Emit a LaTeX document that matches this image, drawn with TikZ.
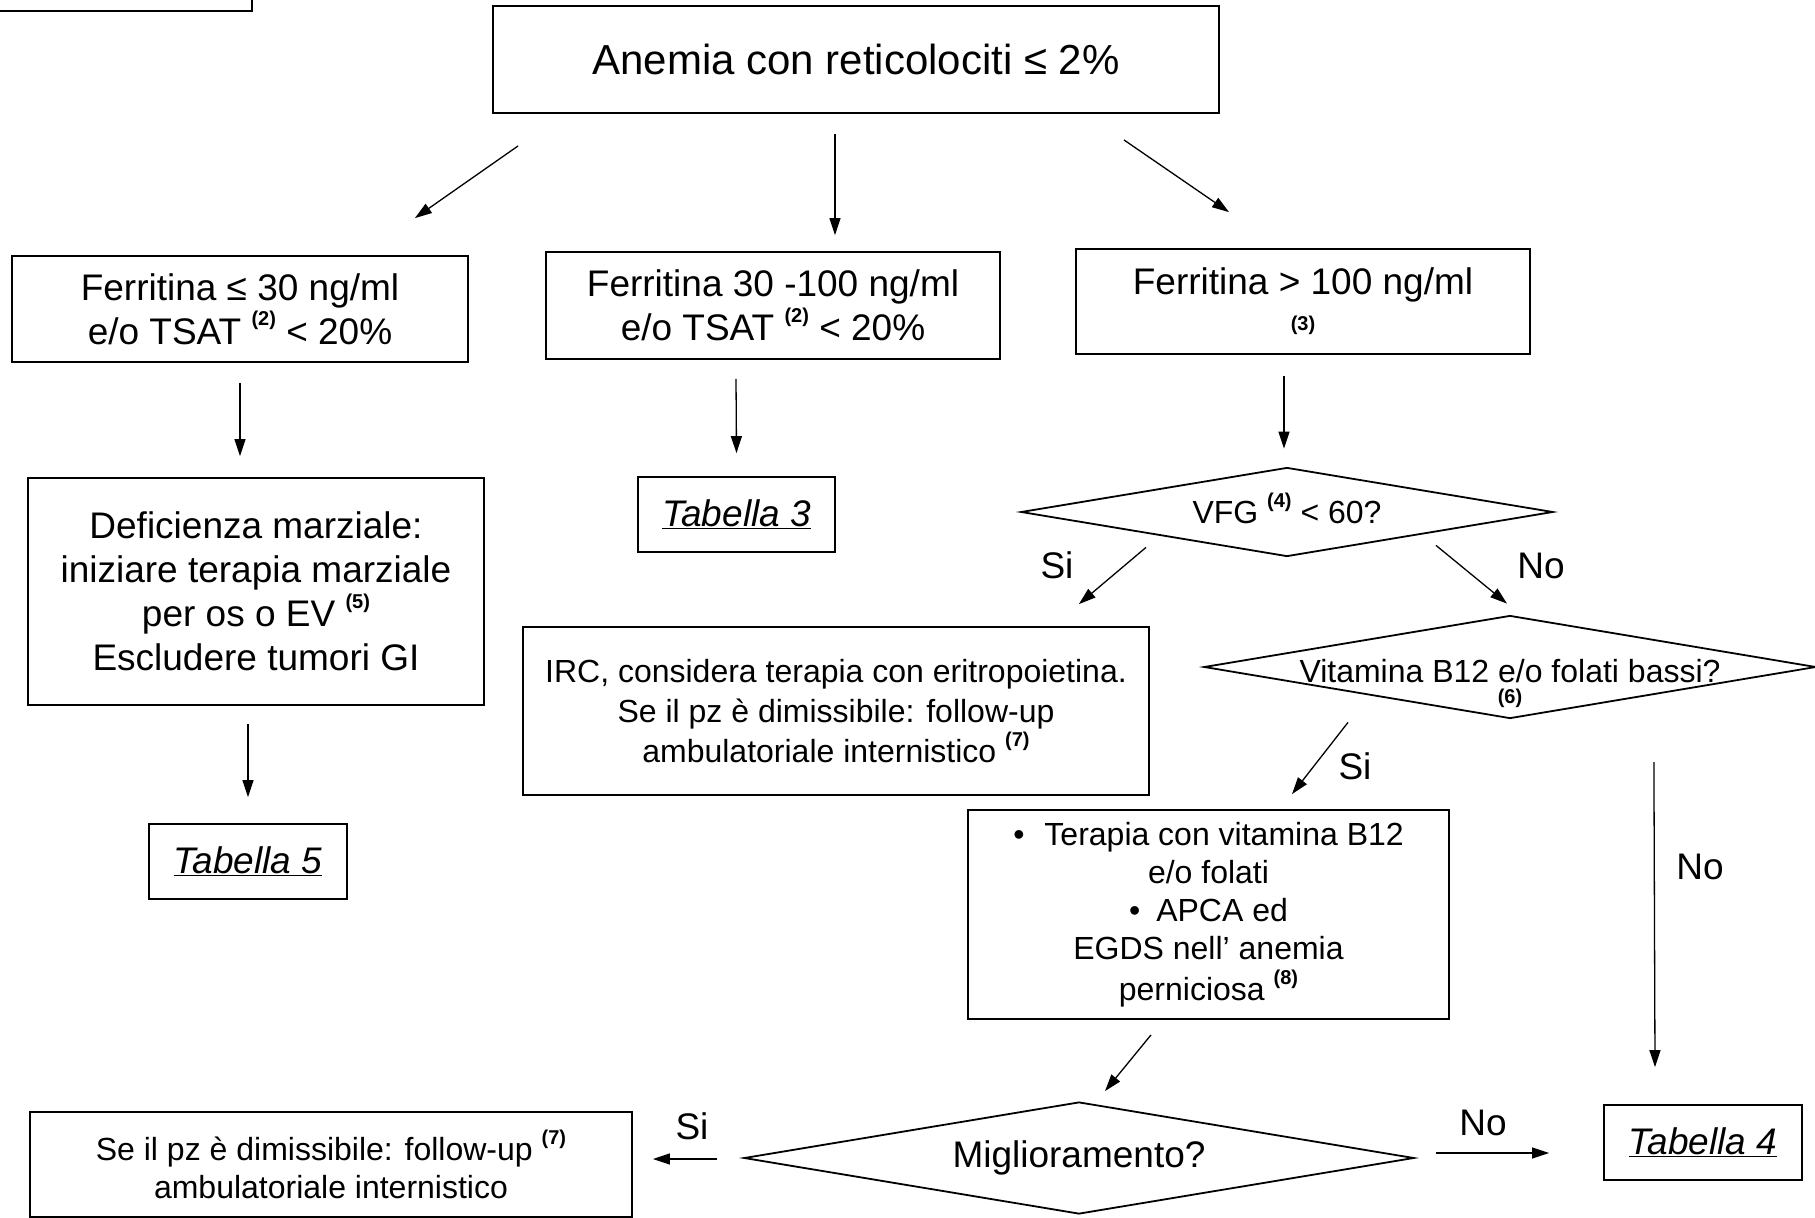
\documentclass[tikz,border=0pt]{standalone}
\usepackage{fontspec}
\setmainfont{Liberation Sans}
\usetikzlibrary{shapes.geometric,arrows.meta}

\newcommand{\nota}[1]{\raisebox{.5em}{\fontsize{20}{20}\selectfont\bfseries(#1)}}
\newcommand{\tab}[1]{\underline{\textit{Tabella #1}}}

\begin{document}
\begin{tikzpicture}[x=1pt,y=-1pt,
  box/.style={draw,line width=1.8pt,align=center,inner sep=0pt},
  decision/.style={draw,line width=1.8pt,shape=diamond,aspect=6,align=center,inner sep=0pt},
  big/.style={font=\fontsize{42}{50}\selectfont},
  mid/.style={font=\fontsize{37}{44}\selectfont},
  small/.style={font=\fontsize{32}{40}\selectfont},
  arr/.style={line width=1.3pt,-{Triangle[length=17pt,width=11pt]}}]

  \useasboundingbox (0,0) rectangle (1815,1218);

%% pezzo di riquadro tagliato in alto
  \draw[line width=1.8pt] (0,11) -| (252,0);

%% riquadri
  \node[box,big,minimum width=726,minimum height=107] (anem) at (856,59.5)
    {Anemia con reticolociti ≤ 2\%};

  \node[box,mid,minimum width=456,minimum height=106] (fer1) at (240,309)
    {Ferritina ≤ 30 ng/ml\\ e/o TSAT \nota{2} < 20\%};
  \node[box,mid,minimum width=454,minimum height=107] (fer2) at (773,305.5)
    {Ferritina 30 -100 ng/ml\\ e/o TSAT \nota{2} < 20\%};
  \node[box,mid,minimum width=454,minimum height=105] (fer3) at (1303,301.5)
    {Ferritina > 100 ng/ml\\[-8pt] {\fontsize{20}{20}\selectfont\bfseries (3)}};

  \node[box,mid,minimum width=456,minimum height=227] (defm) at (256,591.5)
    {Deficienza marziale:\\ iniziare terapia marziale\\ per os o EV \nota{5}\\ Escludere tumori GI};
  \node[box,mid,minimum width=197,minimum height=75] (tab3) at (736.5,514.5) {\tab{3}};
  \node[box,mid,minimum width=198,minimum height=75] (tab5) at (248,861.5) {\tab{5}};

  \node[decision,small,minimum width=532,minimum height=89] (vfg) at (1287,512)
    {VFG \smash{\nota{4}} < 60?};

  \node[box,small,minimum width=626,minimum height=168] (irc) at (836,711)
    {IRC, considera terapia con eritropoietina.\\ Se il pz è dimissibile: follow-up\\ ambulatoriale internistico \nota{7}};

  % testo a misura zero: la scritta esce dal rombo come nell'originale
  \node[decision,small,minimum width=612,minimum height=103] (vit) at (1510,667)
    {\smash{\makebox[0pt]{\raisebox{-15pt}{Vitamina B12 e/o folati bassi?}}%
     \makebox[0pt]{\raisebox{-36pt}{\fontsize{20}{20}\selectfont\bfseries (6)}}}};

  \node[box,small,minimum width=481,minimum height=209,font=\fontsize{32}{38}\selectfont] (ter) at (1208.5,914.5)
    {\textbullet\hspace{20pt}Terapia con vitamina B12\\ e/o folati\\ \textbullet\hspace{16pt}APCA ed\\ EGDS nell’ anemia\\[3pt] perniciosa \nota{8}};

  \node[decision,mid,minimum width=670,minimum height=112] (migl) at (1079,1158) {Miglioramento?};

  \node[box,small,minimum width=602,minimum height=105,font=\fontsize{32}{38}\selectfont] (foll) at (331,1164.5)
    {Se il pz è dimissibile: follow-up \nota{7}\\ ambulatoriale internistico};
  \node[box,mid,minimum width=198,minimum height=75] (tab4) at (1703,1142.5) {\tab{4}};

%% frecce
  \draw[arr] ([shift={(26,32)}]anem.south west) -- ([shift={(-54,-37)}]fer1.north east);
  \draw[arr] ([shift={(-21,20)}]anem.south) -- ([shift={(62,-16)}]fer2.north);
  \draw[arr] ([shift={(-96,26)}]anem.south east) -- ([shift={(-74,-36)}]fer3.north);

  \draw[arr] ([shift={(0,20)}]fer1.south) -- ([shift={(-16,-21)}]defm.north);
  \draw[arr] ([shift={(-37,19)}]fer2.south) -- ([shift={(0,-23)}]tab3.north);
  \draw[arr] ([shift={(-19,21)}]fer3.south) -- ([shift={(-3,-18)}]vfg.north);
  \draw[arr] ([shift={(-8,18)}]defm.south) -- ([shift={(0,-26)}]tab5.north);

  \draw[arr] ([shift={(-141,-10)}]vfg.south) -- ([shift={(-71,-22)}]irc.north east);
  \draw[arr] ([shift={(149,-12)}]vfg.south) -- ([shift={(-3,-11)}]vit.north);
  \draw[arr] ([shift={(-162,3)}]vit.south) -- ([shift={(83.5,-15)}]ter.north);
  \draw[arr] ([shift={(-163,95)}]vit.east) -- ([shift={(-48,-37)}]tab4.north);
  \draw[arr] ([shift={(-57.5,15)}]ter.south) -- ([shift={(26,-10)}]migl.north);
  \draw[arr] ([shift={(-26,1)}]migl.west) -- ([shift={(20,-5.5)}]foll.east);
  \draw[arr] ([shift={(21,-5)}]migl.east) -- ([shift={(-54,10.5)}]tab4.west);

%% Si / No
  \node[mid] (si1) at (1057,565) {Si};
  \node[mid] (no1) at (1541,566) {No};
  \node[mid] (si2) at (1355,766) {Si};
  \node[mid] (no2) at (1700,867) {No};
  \node[mid] (si3) at (692,1126) {Si};
  \node[mid] (no3) at (1483,1123) {No};

\end{tikzpicture}
\end{document}
